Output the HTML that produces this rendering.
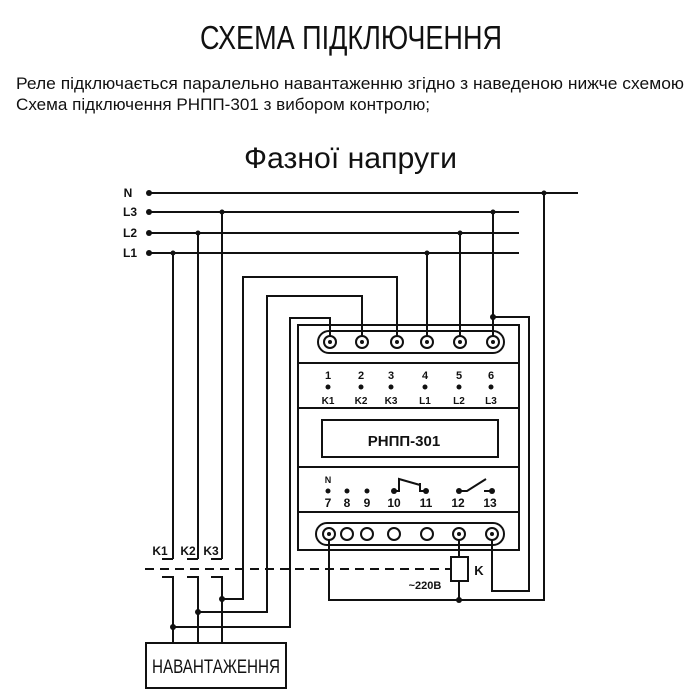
<!DOCTYPE html>
<html><head><meta charset="utf-8"><style>
html,body{margin:0;padding:0;background:#fff;}
svg{display:block;}
</style></head><body>
<svg width="700" height="700" viewBox="0 0 700 700" xmlns="http://www.w3.org/2000/svg" font-family="Liberation Sans, sans-serif">
<rect width="700" height="700" fill="#fff"/>
<text x="200" y="49" font-size="33" font-weight="500" textLength="302" lengthAdjust="spacingAndGlyphs" fill="#111">СХЕМА ПІДКЛЮЧЕННЯ</text>
<text x="16" y="89" font-size="17" textLength="668" lengthAdjust="spacingAndGlyphs" fill="#111">Реле підключається паралельно навантаженню згідно з наведеною нижче схемою</text>
<text x="16" y="110" font-size="17" textLength="414" lengthAdjust="spacingAndGlyphs" fill="#111">Схема підключення РНПП-301 з вибором контролю;</text>
<text x="244" y="168" font-size="30" textLength="213" lengthAdjust="spacingAndGlyphs" fill="#111">Фазної напруги</text>

<g stroke="#111" stroke-width="2" fill="none">
<line x1="149" y1="193" x2="578" y2="193"/>
<line x1="149" y1="212" x2="519" y2="212"/>
<line x1="149" y1="233" x2="519" y2="233"/>
<line x1="149" y1="253" x2="519" y2="253"/>
<line x1="173" y1="253" x2="173" y2="559"/>
<line x1="198" y1="233" x2="198" y2="559"/>
<line x1="222" y1="212" x2="222" y2="559"/>
<polyline points="173,559 162,559"/>
<polyline points="198,559 187,559"/>
<polyline points="222,559 211,559"/>
<polyline points="162,577 173,577 173,643"/>
<polyline points="187,577 198,577 198,643"/>
<polyline points="211,577 222,577 222,643"/>
<polyline points="222,599 243,599 243,277 397,277 397,342"/>
<polyline points="198,612 267,612 267,296 362,296 362,342"/>
<polyline points="173,627 290,627 290,318 330,318 330,342"/>
<line x1="427" y1="253" x2="427" y2="342"/>
<line x1="460" y1="233" x2="460" y2="342"/>
<line x1="493" y1="212" x2="493" y2="342"/>
<polyline points="493,317 529,317 529,591 492,591 492,534"/>
<polyline points="544,193 544,600 329,600 329,534"/>
<polyline points="459,534 459,557"/>
<polyline points="459,581 459,600"/>
<rect x="451" y="557" width="17" height="24"/>
<rect x="298" y="325" width="221" height="225"/>
<line x1="298" y1="363" x2="519" y2="363"/>
<line x1="298" y1="408" x2="519" y2="408"/>
<line x1="298" y1="467" x2="519" y2="467"/>
<line x1="298" y1="512" x2="519" y2="512"/>
<rect x="322" y="420" width="176" height="37"/>
<rect x="318" y="331" width="186" height="22" rx="11"/>
<rect x="316" y="523" width="188" height="22" rx="11"/>
<rect x="146" y="643" width="140" height="45"/>
<polyline points="394,491 399,491 399,479 420,485"/>
<polyline points="420,483 420,491 426,491"/>
<polyline points="459,491 467,491 486,479"/>
<line x1="484" y1="491" x2="492" y2="491"/>
</g>
<line x1="145" y1="569" x2="450" y2="569" stroke="#111" stroke-width="2" stroke-dasharray="9,6"/>
<g fill="#fff" stroke="#111" stroke-width="2">
<circle cx="330" cy="342" r="6"/><circle cx="362" cy="342" r="6"/><circle cx="397" cy="342" r="6"/>
<circle cx="427" cy="342" r="6"/><circle cx="460" cy="342" r="6"/><circle cx="493" cy="342" r="6"/>
<circle cx="329" cy="534" r="6"/><circle cx="347" cy="534" r="6"/><circle cx="367" cy="534" r="6"/>
<circle cx="394" cy="534" r="6"/><circle cx="427" cy="534" r="6"/><circle cx="459" cy="534" r="6"/><circle cx="492" cy="534" r="6"/>
</g>
<g fill="#111">
<circle cx="330" cy="342" r="2"/><circle cx="362" cy="342" r="2"/><circle cx="397" cy="342" r="2"/>
<circle cx="427" cy="342" r="2"/><circle cx="460" cy="342" r="2"/><circle cx="493" cy="342" r="2"/>
<circle cx="329" cy="534" r="2"/><circle cx="459" cy="534" r="2"/><circle cx="492" cy="534" r="2"/>
<circle cx="149" cy="193" r="3"/><circle cx="149" cy="212" r="3"/><circle cx="149" cy="233" r="3"/><circle cx="149" cy="253" r="3"/>
<circle cx="173" cy="253" r="2.5"/><circle cx="198" cy="233" r="2.5"/><circle cx="222" cy="212" r="2.5"/>
<circle cx="427" cy="253" r="2.5"/><circle cx="460" cy="233" r="2.5"/><circle cx="493" cy="212" r="2.5"/>
<circle cx="544" cy="193" r="2.5"/><circle cx="493" cy="317" r="3"/><circle cx="459" cy="600" r="3"/>
<circle cx="222" cy="599" r="3"/><circle cx="198" cy="612" r="3"/><circle cx="173" cy="627" r="3"/>
<circle cx="328" cy="387" r="2.5"/><circle cx="361" cy="387" r="2.5"/><circle cx="391" cy="387" r="2.5"/>
<circle cx="425" cy="387" r="2.5"/><circle cx="459" cy="387" r="2.5"/><circle cx="491" cy="387" r="2.5"/>
<circle cx="328" cy="491" r="2.5"/><circle cx="347" cy="491" r="2.5"/><circle cx="367" cy="491" r="2.5"/>
<circle cx="394" cy="491" r="3"/><circle cx="426" cy="491" r="3"/><circle cx="459" cy="491" r="3"/><circle cx="492" cy="491" r="3"/>
</g>
<g fill="#111" font-weight="bold" font-size="11" text-anchor="middle">
<text x="128" y="197" font-size="12">N</text><text x="130" y="216" font-size="12">L3</text><text x="130" y="237" font-size="12">L2</text><text x="130" y="257" font-size="12">L1</text>
<text x="328" y="379">1</text><text x="361" y="379">2</text><text x="391" y="379">3</text>
<text x="425" y="379">4</text><text x="459" y="379">5</text><text x="491" y="379">6</text>
<text x="328" y="404" font-size="10">K1</text><text x="361" y="404" font-size="10">K2</text><text x="391" y="404" font-size="10">K3</text>
<text x="425" y="404" font-size="10">L1</text><text x="459" y="404" font-size="10">L2</text><text x="491" y="404" font-size="10">L3</text>
<text x="328" y="483" font-size="9">N</text>
<text x="328" y="507" font-size="12">7</text><text x="347" y="507" font-size="12">8</text><text x="367" y="507" font-size="12">9</text>
<text x="394" y="507" font-size="12">10</text><text x="426" y="507" font-size="12">11</text><text x="458" y="507" font-size="12">12</text><text x="490" y="507" font-size="12">13</text>
<text x="404" y="446" font-size="15">РНПП-301</text>
<text x="160" y="555" font-size="12">K1</text><text x="188" y="555" font-size="12">K2</text><text x="211" y="555" font-size="12">K3</text>
<text x="479" y="575" font-size="13">K</text>
<text x="425" y="589" font-size="11">~220В</text>
</g>
<text x="216" y="673" font-size="19" text-anchor="middle" fill="#111" textLength="128" lengthAdjust="spacingAndGlyphs">НАВАНТАЖЕННЯ</text>
</svg>
</body></html>
